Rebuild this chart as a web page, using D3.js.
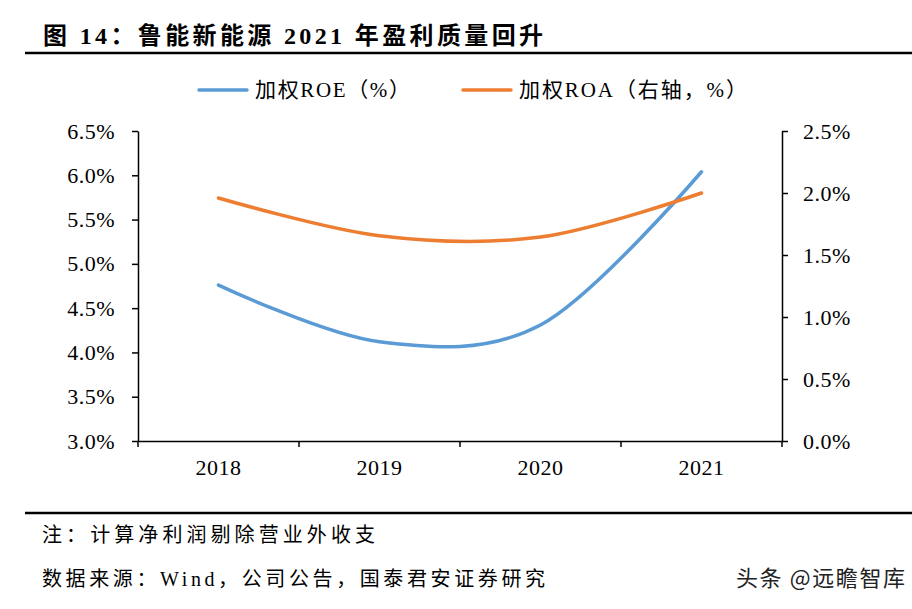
<!DOCTYPE html>
<html><head><meta charset="utf-8">
<script src="https://cdn.jsdelivr.net/npm/d3@7"></script>
<style>
body{margin:0;background:#fff;}
svg{display:block;}
</style></head>
<body>
<svg id="chart" width="912" height="609"></svg>
<script>
const categories = ["2018", "2019", "2020", "2021"];
const roe = [4.76, 4.12, 4.31, 6.04];   // 加权ROE（%）左轴
const roa = [1.96, 1.655, 1.645, 2.00]; // 加权ROA（右轴，%）
const leftTicks = [3.0, 3.5, 4.0, 4.5, 5.0, 5.5, 6.0, 6.5];
const rightTicks = [0.0, 0.5, 1.0, 1.5, 2.0, 2.5];
const seriesNames = ["加权ROE（%）", "加权ROA（右轴，%）"];
const colors = ["#5B9BD5", "#ED7D31"];

const svg = d3.select("#chart");
const serif = "'Liberation Serif','Times New Roman','Noto Sans CJK SC',serif";
const m = {left: 138, right: 782, top: 131, bottom: 441};

const x = d3.scaleBand().domain(categories).range([m.left, m.right]);
const yL = d3.scaleLinear().domain([3.0, 6.5]).range([m.bottom, m.top]);
const yR = d3.scaleLinear().domain([0, 2.5]).range([m.bottom, m.top]);

// Title
svg.append("text").attr("x", 43).attr("y", 44)
  .attr("font-family", serif).attr("font-weight", "bold").attr("font-size", 24)
  .attr("textLength", 500).attr("lengthAdjust", "spacing")
  .text("图 14：鲁能新能源 2021 年盈利质量回升");
svg.append("line").attr("x1", 25).attr("x2", 912).attr("y1", 53).attr("y2", 53)
  .attr("stroke", "#000").attr("stroke-width", 2.5);

// Axes
const fmt = d => d.toFixed(1) + "%";
const gL = svg.append("g").attr("transform", `translate(${m.left},0)`)
  .call(d3.axisLeft(yL).tickValues(leftTicks).tickFormat(fmt).tickSize(6).tickSizeOuter(0).tickPadding(17));
const gR = svg.append("g").attr("transform", `translate(${m.right},0)`)
  .call(d3.axisRight(yR).tickValues(rightTicks).tickFormat(fmt).tickSize(6).tickSizeOuter(0).tickPadding(15));
const gX = svg.append("g").attr("transform", `translate(0,${m.bottom})`)
  .call(d3.axisBottom(x).tickSize(0).tickSizeOuter(0).tickPadding(18));
// boundary ticks of the category axis
const bounds = categories.map(c => x(c)).concat([x(categories[categories.length - 1]) + x.bandwidth()]);
gX.selectAll("line.bound").data(bounds)
  .enter().append("line").attr("class", "bound")
  .attr("x1", d => d).attr("x2", d => d)
  .attr("y1", 0).attr("y2", 6).attr("stroke", "#000").attr("stroke-width", 1.5);

[gL, gR, gX].forEach(g => {
  g.selectAll("path.domain").attr("stroke", "#000").attr("stroke-width", 1.5);
  g.selectAll(".tick line").attr("stroke", "#000").attr("stroke-width", 1.5);
  g.selectAll("text").attr("font-family", serif).attr("font-size", 22)
    .attr("letter-spacing", 0.5).attr("fill", "#000");
});

// Lines
const curve = d3.curveCardinal.tension(0);
const cx = (d, i) => x(categories[i]) + x.bandwidth() / 2;
const lineL = d3.line().x(cx).y(d => yL(d)).curve(curve);
const lineR = d3.line().x(cx).y(d => yR(d)).curve(curve);
svg.append("path").datum(roe).attr("d", lineL).attr("fill", "none")
  .attr("stroke", colors[0]).attr("stroke-width", 3.5).attr("stroke-linecap", "round");
svg.append("path").datum(roa).attr("d", lineR).attr("fill", "none")
  .attr("stroke", colors[1]).attr("stroke-width", 3.5).attr("stroke-linecap", "round");

// Legend
const legendX = [199, 463];
const legendW = [155, 228];
seriesNames.forEach((name, i) => {
  const g = svg.append("g").attr("transform", `translate(${legendX[i]},90)`);
  g.append("line").attr("x1", 0).attr("x2", 48).attr("y1", 0).attr("y2", 0)
    .attr("stroke", colors[i]).attr("stroke-width", 3.5).attr("stroke-linecap", "round");
  g.append("text").attr("x", 56).attr("y", 7)
    .attr("font-family", serif).attr("font-size", 21)
    .attr("textLength", legendW[i]).attr("lengthAdjust", "spacing").text(name);
});

// Footer
svg.append("line").attr("x1", 25).attr("x2", 912).attr("y1", 513).attr("y2", 513)
  .attr("stroke", "#000").attr("stroke-width", 2.5);
svg.append("text").attr("x", 42).attr("y", 542)
  .attr("font-family", serif).attr("font-size", 20)
  .attr("textLength", 333).attr("lengthAdjust", "spacing")
  .text("注：计算净利润剔除营业外收支");
svg.append("text").attr("x", 42).attr("y", 586)
  .attr("font-family", serif).attr("font-size", 20)
  .attr("textLength", 503).attr("lengthAdjust", "spacing")
  .text("数据来源：Wind，公司公告，国泰君安证券研究");
svg.append("text").attr("x", 736).attr("y", 586)
  .attr("font-family", "'Noto Sans CJK SC','Noto Sans',sans-serif").attr("font-size", 22).attr("fill", "#222")
  .attr("textLength", 169).attr("lengthAdjust", "spacing")
  .text("头条 @远瞻智库");
</script>
</body></html>
